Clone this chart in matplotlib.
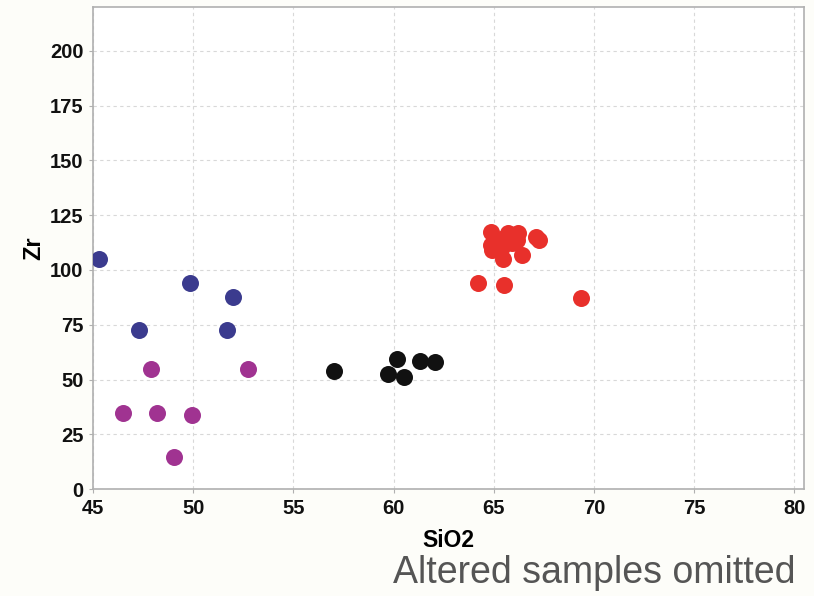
import matplotlib
matplotlib.use("Agg")
import matplotlib.pyplot as plt

blue_x = [45.3, 47.3, 49.85, 52.0, 51.7]
blue_y = [105, 72.6, 94, 87.7, 72.6]
mag_x = [47.9, 52.75, 46.5, 48.2, 49.95, 49.05]
mag_y = [54.8, 54.8, 34.7, 34.7, 33.8, 14.6]
blk_x = [57.0, 59.7, 60.15, 60.5, 61.3, 62.05]
blk_y = [53.9, 52.5, 59.4, 51.1, 58.4, 58.0]
red_x = [64.2, 65.5, 69.35, 64.85, 65.7, 66.2, 67.1, 67.25, 64.85, 65.4, 65.45,
         66.4, 65.9, 65.1, 64.9, 66.15, 65.5]
red_y = [94, 93, 87.2, 117.4, 116.9, 116.9, 115, 113.7, 111.4, 110.5, 105,
         106.8, 112.3, 113.7, 109, 113.7, 114.6]

xticks = [45, 50, 55, 60, 65, 70, 75, 80]
yticks = [0, 25, 50, 75, 100, 125, 150, 175, 200]

plt.rcParams['font.family'] = ['Liberation Sans', 'DejaVu Sans']
fig = plt.figure(figsize=(8.14, 5.96), dpi=100, facecolor='#fdfdf9')
ax = fig.add_axes([0.1145, 0.1795, 0.8735, 0.8085])
ax.set_facecolor('white')

s = 150
ax.scatter(blue_x, blue_y, s=s, color='#3b3b8e', zorder=3, linewidths=0)
ax.scatter(mag_x, mag_y, s=s, color='#a03391', zorder=3, linewidths=0)
ax.scatter(blk_x, blk_y, s=s, color='#111111', zorder=3, linewidths=0)
ax.scatter(red_x, red_y, s=s, color='#e8302b', zorder=3, linewidths=0)

ax.set_xlim(45, 80.5)
ax.set_ylim(0, 220)
ax.set_xticks(xticks)
ax.set_yticks(yticks)
ax.set_xticklabels([str(t) for t in xticks], fontweight='bold', fontsize=14.5)
ax.set_yticklabels([str(t) for t in yticks], fontweight='bold', fontsize=14.5)
ax.grid(True, linestyle=(0, (3, 3)), color='#d8d8d8', linewidth=0.8, zorder=0)
for sp in ax.spines.values():
    sp.set_color('#b0b0b0')
    sp.set_linewidth(1.2)
ax.tick_params(colors='#b0b0b0', length=3, labelcolor='#111111', pad=4)

ax.set_xlabel('SiO2', fontweight='bold', fontsize=16.5, labelpad=8)
ax.set_ylabel('Zr', fontweight='bold', fontsize=17, labelpad=3)

fig.text(0.483, 0.008, 'Altered samples omitted', fontsize=27, color='#555555',
         ha='left', va='bottom')

fig.savefig('out.png', dpi=100, facecolor=fig.get_facecolor())
